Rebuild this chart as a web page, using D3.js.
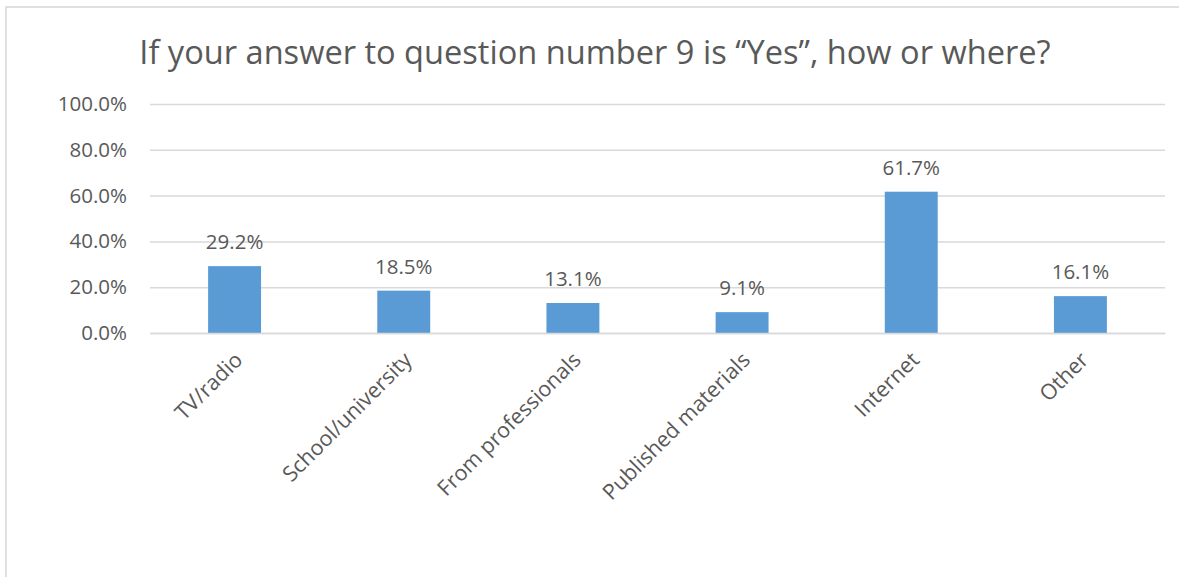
<!DOCTYPE html>
<html>
<head>
<meta charset="utf-8">
<script src="https://cdn.jsdelivr.net/npm/d3@7"></script>
<style>
  html, body { margin: 0; padding: 0; background: #ffffff; }
  svg { display: block; }
  text { font-family: "Open Sans", "Noto Sans", sans-serif; fill: #595959; }
</style>
</head>
<body>
<svg id="chart" width="1179" height="577"></svg>
<script>
// Survey answers: where respondents learned about the topic
const titleText = "If your answer to question number 9 is \u201cYes\u201d, how or where?";
const categories = ["TV/radio", "School/university", "From professionals", "Published materials", "Internet", "Other"];
const values = [29.2, 18.5, 13.1, 9.1, 61.7, 16.1];
const yTicks = [0, 20, 40, 60, 80, 100];

const svg = d3.select("#chart");
const W = 1179, H = 577;
const plot = { left: 150, right: 1165, top: 104, bottom: 333 };

// Chart frame (runs past the right and bottom edges)
svg.append("rect")
  .attr("x", 6).attr("y", 7)
  .attr("width", W + 20).attr("height", H + 20)
  .attr("fill", "#ffffff")
  .attr("stroke", "#d9d9d9")
  .attr("stroke-width", 1.6);

const x = d3.scaleBand()
  .domain(categories)
  .range([plot.left, plot.right])
  .paddingInner(0.687)
  .paddingOuter(0.3435)
  .align(0.5);

const y = d3.scaleLinear()
  .domain([0, 100])
  .range([plot.bottom, plot.top]);

// Title
svg.append("text")
  .attr("x", 595).attr("y", 64)
  .attr("text-anchor", "middle")
  .style("font-size", "32.6px")
  .text(titleText);

// Horizontal gridlines and y tick labels
const yAxis = d3.axisLeft(y)
  .tickValues(yTicks)
  .tickSize(-(plot.right - plot.left))
  .tickPadding(23)
  .tickFormat(d => d.toFixed(1) + "%");

const gy = svg.append("g")
  .attr("transform", `translate(${plot.left},0)`)
  .call(yAxis);
gy.select(".domain").remove();
gy.selectAll(".tick line")
  .attr("stroke", "#d9d9d9")
  .attr("stroke-width", 1.5);
gy.selectAll(".tick text")
  .style("font-size", "20.5px")
  .style("font-family", "\"Open Sans\", sans-serif")
  .attr("fill", "#595959");

// Bars
svg.append("g")
  .selectAll("rect")
  .data(values)
  .join("rect")
  .attr("x", (d, i) => x(categories[i]))
  .attr("y", d => y(d))
  .attr("width", x.bandwidth())
  .attr("height", d => y(0) - y(d))
  .attr("fill", "#5b9bd5");

// Value labels above bars
svg.append("g")
  .selectAll("text")
  .data(values)
  .join("text")
  .attr("x", (d, i) => x(categories[i]) + x.bandwidth() / 2)
  .attr("y", d => y(d) - 17)
  .attr("text-anchor", "middle")
  .style("font-size", "20.5px")
  .text(d => d.toFixed(1) + "%");

// Rotated category labels
const xAxis = d3.axisBottom(x).tickSize(0).tickPadding(0);
const gx = svg.append("g")
  .attr("transform", `translate(0,${plot.bottom})`)
  .call(xAxis);
gx.select(".domain")
  .attr("stroke", "#d9d9d9")
  .attr("stroke-width", 1.5);
gx.selectAll(".tick text")
  .style("font-size", "21.5px")
  .style("font-family", "\"Open Sans\", sans-serif")
  .attr("fill", "#595959")
  .attr("text-anchor", "end")
  .attr("dy", "0.35em")
  .attr("transform", "translate(4,23) rotate(-45)");
</script>
</body>
</html>
